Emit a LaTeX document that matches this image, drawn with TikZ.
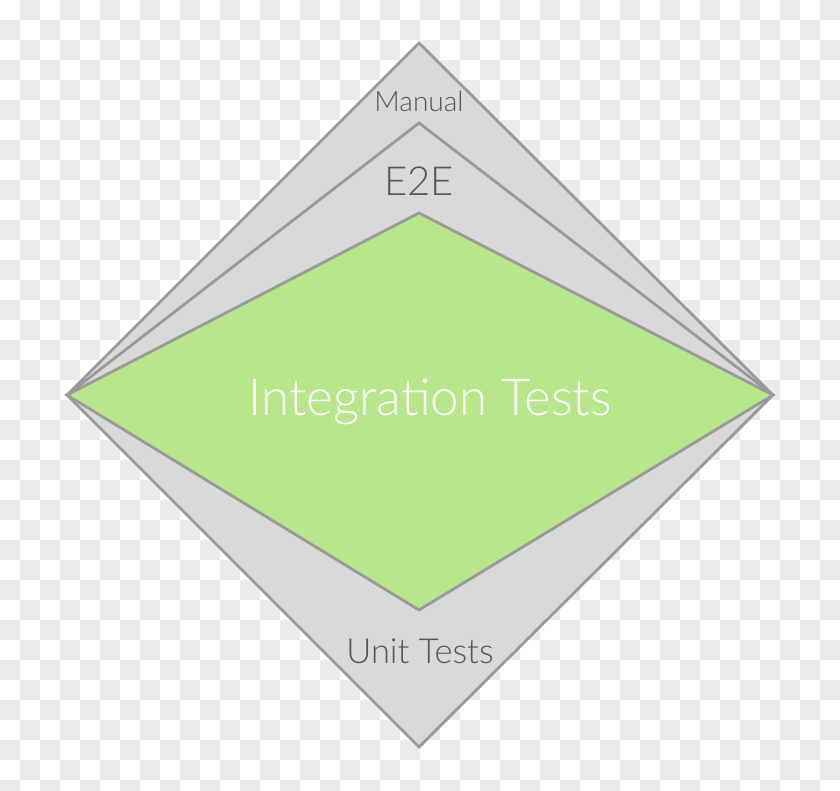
\documentclass[tikz,border=0pt]{standalone}
\usepackage{fontspec}
\setmainfont{Lato Light}
\definecolor{lineg}{HTML}{999999}
\definecolor{fillg}{HTML}{D9D9D9}
\definecolor{greenf}{HTML}{B8E68A}
\definecolor{textg}{HTML}{555555}
\definecolor{checker}{HTML}{EBEBEB}
\tikzset{
  region/.style={draw=lineg, line width=2.8pt, line join=miter},
  label/.style={anchor=base, inner sep=0pt, text=textg}
}
\begin{document}
\begin{tikzpicture}[x=1pt, y=-1pt]
      \useasboundingbox (0, 0) rectangle (840, 791);
      \clip (0, 0) rectangle (840, 791);

      % background squares
      \foreach \j in {0, 40, ..., 760}{
        \foreach \i in {20, 60, ..., 820}
          \fill[checker] (\i, \j) rectangle ++(20, 20);
        \foreach \i in {0, 40, ..., 800}
          \fill[checker] (\i, \j+20) rectangle ++(20, 20);
      }

      \coordinate (top) at (419, 43);
      \coordinate (bot) at (419, 747);
      \coordinate (lft) at (67, 395);
      \coordinate (rgt) at (773, 395);
      \coordinate (etop) at (419, 123);
      \coordinate (gtop) at (419, 213);
      \coordinate (gbot) at (419, 610);

      \draw[region, fill=fillg] (lft) -- (top) -- (rgt) -- (bot) -- cycle;
      \draw[region] (lft) -- (etop) -- (rgt);
      \draw[region, fill=greenf] (lft) -- (gtop) -- (rgt) -- (gbot) -- cycle;

      \node[label, font=\fontsize{28}{30}\selectfont] (manual) at (419, 112) {Manual};
      \node[label, font=\fontsize{40}{44}\selectfont] (e2e) at (419, 196) {E2E};
      \node[label, font=\fontsize{51}{55}\selectfont, text=white] (integ) at (430, 415) {Integration Tests};
      \node[label, font=\fontsize{34.5}{38}\selectfont] (unit) at (420, 663) {Unit Tests};
    \end{tikzpicture}
\end{document}
